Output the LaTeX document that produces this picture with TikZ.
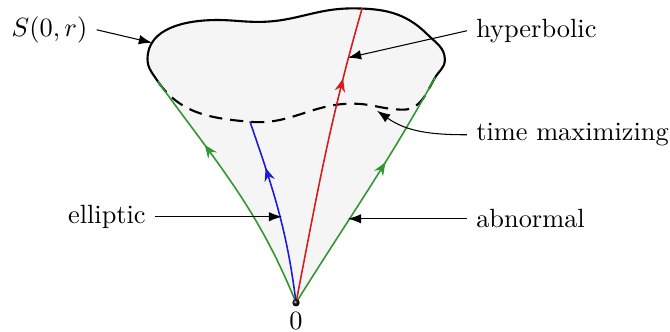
\documentclass[tikz,border=0pt]{standalone}
\usepackage{amsmath,amssymb}
\usepackage{xcolor}
\usepackage{tikz}
\usetikzlibrary{arrows.meta,calc,decorations.markings,positioning}

\definecolor{abncol}{RGB}{48,152,48}
\definecolor{hypcol}{RGB}{214,28,28}
\definecolor{ellcol}{RGB}{28,28,214}

\tikzset{
  geod/.style={semithick, line cap=round},
  midarrow/.style={postaction={decorate},
    decoration={markings, mark=at position #1 with {\arrow{Stealth[length=5pt,width=4pt]}}}},
  pointer/.style={-{Latex[length=5pt,width=3.6pt]}, thin},
}

\begin{document}
\begin{tikzpicture}[>=Stealth]

\useasboundingbox (-3.947,-0.39) rectangle (4.987,4.037);

% ---- Base point and the two ends of the cone ----
\coordinate (O) at (0,0);
\coordinate (L) at (-1.84,2.947);
\coordinate (R) at (1.853,3.0);

% ---- Shaded reachable set ----
\fill[gray!8] (O) to[out=112,in=-54] (L)
  to[out=122,in=-90] (-1.98,3.25) to[out=90,in=180] (-1.05,3.77)
  to[out=0,in=180] (-0.5,3.745) to[out=0,in=180] (0.75,3.925)
  to[out=0,in=135] (1.75,3.58) to[out=-45,in=90] (1.985,3.24)
  to[out=-90,in=60] (R) to[out=-119,in=58] (O);

% ---- Cut locus (dashed) ----
\draw[thick, dash pattern=on 5pt off 3pt]
  (L) to[out=-55,in=175] (-0.613,2.413) to[out=-5,in=180] (0.75,2.655)
  to[out=0,in=180] (1.43,2.575) to[out=0,in=-120] (R);

% ---- Sphere S(0,r) ----
\draw[thick] (L)
  to[out=122,in=-90] (-1.98,3.25) to[out=90,in=180] (-1.05,3.77)
  to[out=0,in=180] (-0.5,3.745) to[out=0,in=180] (0.75,3.925)
  to[out=0,in=135] (1.75,3.58) to[out=-45,in=90] (1.985,3.24)
  to[out=-90,in=60] (R);

% ---- Geodesics ----
\draw[geod, abncol, midarrow=0.7] (O) to[out=112,in=-54] (L);
\draw[geod, abncol, midarrow=0.63] (O) to[out=58,in=-119] (R);
\draw[geod, ellcol, midarrow=0.74] (O) to[out=97,in=-71] (-0.613,2.413);
\draw[geod, hypcol, midarrow=0.76] (O) to[out=79,in=-106] (0.88,3.92);

% ---- Origin ----
\node[circle, inner sep=0pt, minimum size=2.8pt, shading=ball, ball color=black] (dot) at (O) {};
\node[below=-1.5pt of dot] (zero) {$0$};

% ---- Labels ----
\coordinate (tipS) at (-1.92,3.467);
\coordinate (tipH) at (0.693,3.267);
\coordinate (tipT) at (1.08,2.56);
\coordinate (tipE) at (-0.187,1.147);
\coordinate (tipA) at (0.693,1.12);

\node (sph) at (-3.287,3.64) {$S(0,r)$};
\node[anchor=west] (hyp) at (2.28,3.627) {hyperbolic};
\node[anchor=west] (tmax) at (2.28,2.24) {time maximizing};
\node[anchor=east] (ell) at (-1.88,1.147) {elliptic};
\node[anchor=west] (abn) at (2.28,1.12) {abnormal};

\draw[pointer] (sph.east) -- (tipS);
\draw[pointer] (hyp.west) -- (tipH);
\draw[pointer] (tmax.west) to[out=180,in=-35] (tipT);
\draw[pointer] (ell.east) -- (tipE);
\draw[pointer] (abn.west) -- (tipA);

\end{tikzpicture}
\end{document}
